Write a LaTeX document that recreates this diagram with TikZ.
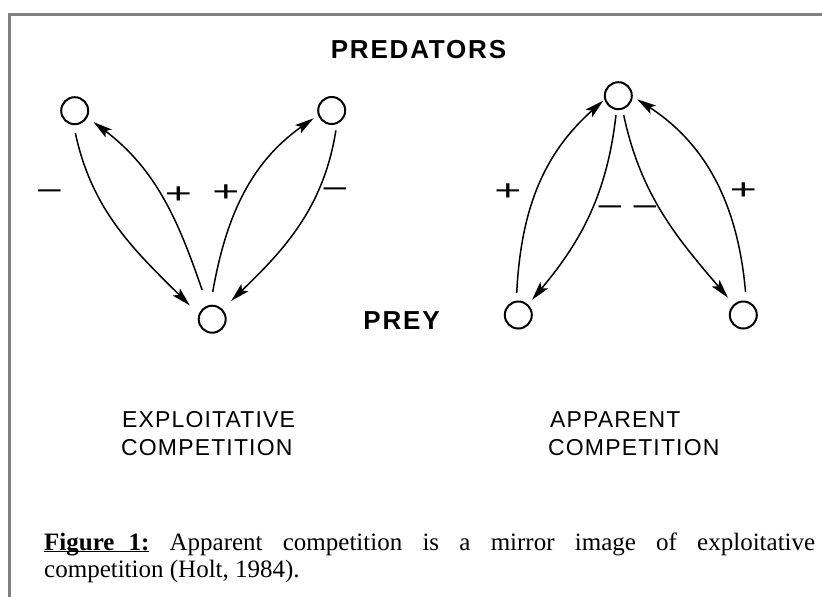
\documentclass[tikz,border=0pt]{standalone}
\usepackage{fontspec}
\usepackage{graphicx}
\setmainfont{Liberation Serif}
\newfontfamily\headfont[LetterSpace=7]{Liberation Sans}
\newfontfamily\labelfont[LetterSpace=5]{Liberation Sans}
\newfontfamily\signfont{Liberation Sans}
\usetikzlibrary{arrows.meta}

\definecolor{framegray}{RGB}{128,128,128}
\newcommand{\widesign}[1]{\scalebox{1.6}[1]{#1}}
\newcommand{\figmark}[1]{\setbox0\hbox{#1}\rlap{\rule[-2.2pt]{\wd0}{1.7pt}}\box0}

\tikzset{
  species/.style={circle,draw,line width=2pt,minimum size=27pt,inner sep=0pt},
  link/.style={line width=1.5pt,-{Stealth[length=19pt,width=10pt,inset=4pt]}},
  sign/.style={inner sep=0pt,font=\fontsize{29}{29}\signfont},
  head/.style={anchor=base,inner sep=0pt,font=\fontsize{26}{26}\headfont\bfseries},
  kind/.style={anchor=base west,inner sep=0pt,font=\fontsize{23}{23}\labelfont}
}

\begin{document}
\begin{tikzpicture}[x=1pt,y=1pt]

\useasboundingbox (0,0) rectangle (822,-597);
\fill[white] (0,0) rectangle (822,-597);
\draw[framegray,line width=3pt] (9.5,-597) -- (9.5,-14.5) -- (822,-14.5);

% exploitative competition
\node[species] (predL) at (74.7,-110.7) {};
\node[species] (predR) at (331.7,-110.5) {};
\node[species] (preyE) at (212.2,-319.2) {};

\draw[link,shorten <=8pt,shorten >=12.4pt] (predL.-94) to[out=-78,in=135] (preyE.160);
\draw[link,shorten <=16.5pt,shorten >=7.5pt] (preyE.109) to[out=109,in=-37] (predL.-28);
\draw[link,shorten <=13pt,shorten >=5.4pt] (preyE.97) to[out=80,in=-145] (predR.-161);
\draw[link,shorten <=6.4pt,shorten >=11.8pt] (predR.-69.5) to[out=-99,in=44] (preyE.44);

\node[sign] (minusL) at (49.5,-195) {\widesign{−}};
\node[sign] (plusL) at (178.5,-195) {\widesign{+}};
\node[sign] (plusR) at (226,-193) {\widesign{+}};
\node[sign] (minusR) at (335,-193) {\widesign{−}};

% apparent competition
\node[species] (predA) at (618.3,-95.7) {};
\node[species] (preyL) at (518.3,-315) {};
\node[species] (preyR) at (743.3,-315) {};

\draw[link,shorten <=7.8pt,shorten >=1.5pt] (preyL.98.5) to[out=87,in=-138.5] (predA.-164);
\draw[link,shorten <=5pt,shorten >=5.9pt] (predA.-97) to[out=-96.5,in=50] (preyL.47.6);
\draw[link,shorten <=5.7pt,shorten >=8.5pt] (predA.-73.5) to[out=-78,in=130.5] (preyR.132);
\draw[link,shorten <=9.1pt,shorten >=5.3pt] (preyR.78.5) to[out=95,in=-33] (predA.-3.8);

\node[sign] (plusA) at (508,-192) {\widesign{+}};
\node[sign] (minusA) at (610,-211) {\widesign{−}};
\node[sign] (minusB) at (645,-211) {\widesign{−}};
\node[sign] (plusB) at (743.5,-191) {\widesign{+}};

\node[head] (predators) at (418.5,-58) {PREDATORS};
\node[head] (prey) at (401.5,-329) {PREY};

\node[kind] (exploitA) at (122,-427) {EXPLOITATIVE};
\node[kind] (exploitB) at (121,-455) {COMPETITION};
\node[kind] (apparentA) at (550,-427) {APPARENT};
\node[kind] (apparentB) at (548,-455) {COMPETITION};

\node[anchor=base west,inner sep=0pt,text width=771pt,align=justify,
  font=\fontsize{25}{27}\selectfont] (caption) at (44,-550)
  {\figmark{\textbf{Figure\hspace{14pt}1:}}\ Apparent competition is a mirror image of exploitative\linebreak competition (Holt, 1984).};

\end{tikzpicture}
\end{document}
